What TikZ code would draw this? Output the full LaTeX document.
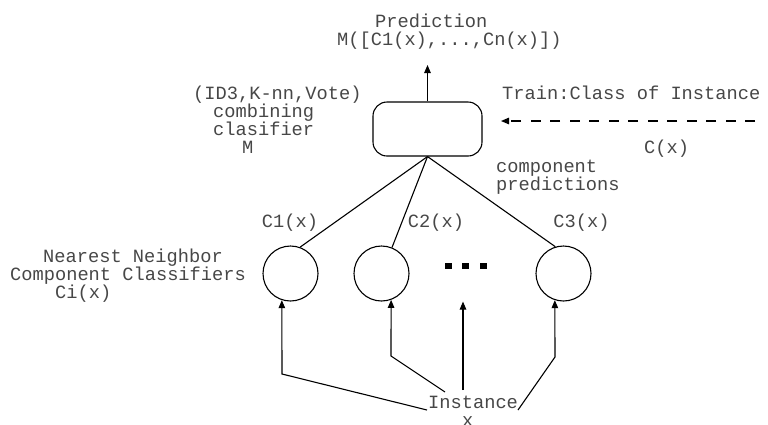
\documentclass[tikz,border=0pt]{standalone}
\usepackage{fontspec}
\setmonofont{Liberation Mono}
\usepackage{tikz}
\usetikzlibrary{arrows.meta}
\tikzset{
  line/.style={draw, line width=1.1pt},
  arrow/.style={line, -{Triangle[length=8pt,width=6.5pt]}},
  trainarrow/.style={arrow, dash pattern=on 10pt off 9.5pt},
  classifier/.style={draw, circle, line width=1.1pt, minimum size=55pt, inner sep=0pt},
  label/.style={text=black!72, inner sep=0pt, align=left,
    font=\ttfamily\fontsize{18.7}{17.8}\selectfont}
}

\begin{document}
\begin{tikzpicture}[x=1pt, y=1pt]
\useasboundingbox (0,0) rectangle (768,-424);

% combining classifier and its output (labels sit on their last baseline)
\node[line, rounded corners=14pt, minimum width=109pt, minimum height=54pt, inner sep=0pt] at (427.5,-129) (comb) {};
\coordinate (predtip) at (427.5,-65);
\draw[arrow] (comb) -- (predtip);
\node[label, anchor=base west] at (337,-45) (pred) {\hspace*{38pt}Prediction\\M([C1(x),...,Cn(x)])};
\node[label, anchor=base west] at (193,-153) (combname) {(ID3,K-nn,Vote)\\\hspace*{20pt}combining\\\hspace*{20pt}clasifier\\\hspace*{49pt}M};

% training signal
\coordinate (trainsrc) at (755,-121);
\coordinate (traintip) at (501,-121);
\draw[trainarrow] (trainsrc) -- (traintip);
\node[label, anchor=base west] at (502,-99) (train) {Train:Class of Instance};
\node[label, anchor=base west] at (644,-153) (trainout) {C(x)};
\node[label, anchor=base west] at (496,-190) (comppred) {component\\predictions};

% component classifiers
\node[classifier] at (290.5,-273.5) (c1) {};
\node[classifier] at (381.5,-273.5) (c2) {};
\node[classifier] at (563.5,-273.5) (c3) {};
\foreach \x in {448.5,465.5,483.5}
  \fill (\x-3.25,-262.75) rectangle (\x+3.25,-269.25);
\node[label, anchor=base] at (290,-227) (c1out) {C1(x)};
\node[label, anchor=base] at (436,-227) (c2out) {C2(x)};
\node[label, anchor=base] at (581.5,-227) (c3out) {C3(x)};
\node[label, anchor=base west] at (10,-298) (nnname) {\hspace*{33pt}Nearest Neighbor\\Component Classifiers\\\hspace*{45pt}Ci(x)};

\draw[line] (comb.south) -- (c1.70);
\draw[line] (comb.south) -- (c2.68);
\draw[line] (comb.south) -- (c3.107);

% instance fed to every classifier
\node[label, anchor=base west] at (428,-426) (inst) {Instance\\\hspace*{34pt}x};
\coordinate (i1) at (427,-410);
\coordinate (i2) at (445,-392);
\coordinate (i3) at (463,-390);
\coordinate (i4) at (518,-410);
\draw[arrow] (i1) -- ++(-145,36) -- (c1.252);
\draw[arrow] (i2) -- ++(-54,36) -- (c2.290);
\draw[arrow] (i3) -- (i3 |- c2.south);
\draw[arrow] (i4) -- ++(37,53) -- (c3.252);
\end{tikzpicture}
\end{document}
